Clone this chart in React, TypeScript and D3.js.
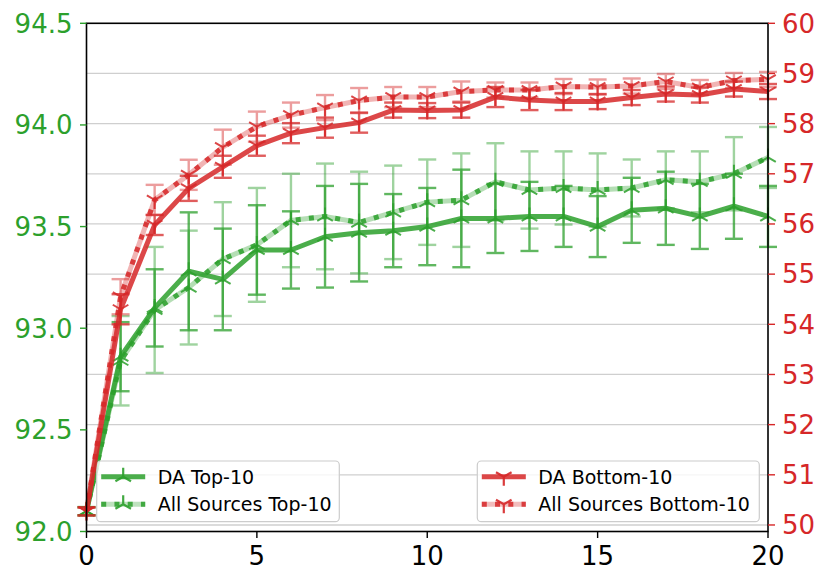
import * as d3 from "d3";
import React from "react";

// epochs on the x axis
const epochs = [0, 1, 2, 3, 4, 5, 6, 7, 8, 9, 10, 11, 12, 13, 14, 15, 16, 17, 18, 19, 20];

// left axis (green): Top-10 accuracy
const daTop = [92.1, 92.86, 93.1, 93.28, 93.24, 93.385, 93.385, 93.45, 93.47, 93.48, 93.5, 93.54, 93.54, 93.55, 93.55, 93.5, 93.58, 93.59, 93.55, 93.6, 93.55];
const daTopErr = [0.02, 0.17, 0.19, 0.29, 0.25, 0.22, 0.19, 0.25, 0.24, 0.18, 0.19, 0.24, 0.17, 0.17, 0.15, 0.15, 0.16, 0.18, 0.16, 0.16, 0.15];
const asTop = [92.1, 92.84, 93.09, 93.2, 93.34, 93.41, 93.53, 93.55, 93.52, 93.57, 93.62, 93.63, 93.72, 93.68, 93.69, 93.68, 93.69, 93.73, 93.72, 93.76, 93.84];
const asTopErr = [0.02, 0.22, 0.31, 0.28, 0.28, 0.28, 0.23, 0.26, 0.25, 0.23, 0.21, 0.23, 0.19, 0.19, 0.18, 0.18, 0.14, 0.14, 0.15, 0.18, 0.15];

// right axis (red): Bottom-10 accuracy
const daBottom = [50.27, 54.3, 55.98, 56.71, 57.14, 57.56, 57.81, 57.92, 58.02, 58.27, 58.26, 58.27, 58.53, 58.47, 58.44, 58.44, 58.52, 58.59, 58.57, 58.69, 58.64];
const daBottomErr = [0.08, 0.3, 0.2, 0.25, 0.22, 0.2, 0.2, 0.2, 0.2, 0.15, 0.15, 0.15, 0.2, 0.2, 0.17, 0.15, 0.15, 0.15, 0.15, 0.15, 0.15];
const asBottom = [50.27, 54.55, 56.48, 56.98, 57.53, 57.94, 58.17, 58.32, 58.46, 58.53, 58.53, 58.64, 58.67, 58.67, 58.74, 58.73, 58.75, 58.84, 58.72, 58.86, 58.88];
const asBottomErr = [0.08, 0.35, 0.3, 0.3, 0.35, 0.3, 0.25, 0.25, 0.25, 0.2, 0.2, 0.2, 0.15, 0.15, 0.15, 0.15, 0.15, 0.15, 0.15, 0.15, 0.15];

const leftTicks = [92.0, 92.5, 93.0, 93.5, 94.0, 94.5];
const rightTicks = [50, 51, 52, 53, 54, 55, 56, 57, 58, 59, 60];
const xTicks = [0, 5, 10, 15, 20];

const GREEN = "#2ca02c";
const RED = "#d62728";
const FONT = "DejaVu Sans";

const W = 830;
const H = 585;
const plot = { left: 86.5, right: 768, top: 23.3, bottom: 531.5 };

const x = d3.scaleLinear().domain([0, 20]).range([plot.left, plot.right]);
const yL = d3.scaleLinear().domain([92, 94.5]).range([plot.bottom, plot.top]);
const yR = d3.scaleLinear().domain([49.87, 60]).range([plot.bottom, plot.top]);

const R = 9;
const triUp = `M0,0L0,${-R}M0,0L${-0.866 * R},${0.5 * R}M0,0L${0.866 * R},${0.5 * R}`;
const triDown = `M0,0L0,${R}M0,0L${-0.866 * R},${-0.5 * R}M0,0L${0.866 * R},${-0.5 * R}`;

type SeriesProps = {
  values: number[];
  errs: number[];
  y: d3.ScaleLinear<number, number>;
  color: string;
  dotted: boolean;
  marker: string;
};

const Series: React.FC<SeriesProps> = ({ values, errs, y, color, dotted, marker }) => {
  const line = d3
    .line<number>()
    .x((_, i) => x(epochs[i]))
    .y((v) => y(v));
  const d = line(values) || "";
  const errOpacity = dotted ? 0.45 : 0.75;
  return (
    <g>
      {values.map((v, i) => {
        const cx = x(epochs[i]);
        const y0 = y(v - errs[i]);
        const y1 = y(v + errs[i]);
        return (
          <g key={i} stroke={color} strokeWidth={2.4} opacity={errOpacity}>
            <line x1={cx} x2={cx} y1={y0} y2={y1} />
            <line x1={cx - 9} x2={cx + 9} y1={y0} y2={y0} />
            <line x1={cx - 9} x2={cx + 9} y1={y1} y2={y1} />
          </g>
        );
      })}
      {dotted ? (
        <>
          <path d={d} fill="none" stroke={color} strokeWidth={5} opacity={0.35} />
          <path d={d} fill="none" stroke={color} strokeWidth={5} strokeDasharray="5 8.25" opacity={0.85} />
        </>
      ) : (
        <path d={d} fill="none" stroke={color} strokeWidth={5} opacity={0.85} strokeLinejoin="round" />
      )}
      {values.map((v, i) => (
        <path
          key={i}
          d={marker}
          transform={`translate(${x(epochs[i])},${y(v)})`}
          fill="none"
          stroke={color}
          strokeWidth={2}
          opacity={0.85}
        />
      ))}
    </g>
  );
};

type LegendItem = { label: string; dotted: boolean };

const Legend: React.FC<{
  x0: number;
  width: number;
  color: string;
  marker: string;
  items: LegendItem[];
}> = ({ x0, width, color, marker, items }) => {
  const top = 461;
  const height = 60.7;
  return (
    <g>
      <rect
        x={x0}
        y={top}
        width={width}
        height={height}
        rx={4}
        fill="white"
        fillOpacity={0.8}
        stroke="#cccccc"
        strokeWidth={1.2}
      />
      {items.map((it, i) => {
        const cy = 476.7 + i * 27.6;
        const hx0 = x0 + 4.5;
        const hx1 = x0 + 48.5;
        const mx = (hx0 + hx1) / 2;
        return (
          <g key={it.label}>
            {it.dotted ? (
              <>
                <line x1={hx0} x2={hx1} y1={cy} y2={cy} stroke={color} strokeWidth={5} opacity={0.3} />
                <line x1={hx0} x2={hx1} y1={cy} y2={cy} stroke={color} strokeWidth={5} strokeDasharray="5 8.25" opacity={0.85} />
              </>
            ) : (
              <line x1={hx0} x2={hx1} y1={cy} y2={cy} stroke={color} strokeWidth={5} opacity={0.85} />
            )}
            <path d={marker} transform={`translate(${mx},${cy})`} fill="none" stroke={color} strokeWidth={2.2} opacity={0.9} />
            <text x={x0 + 61} y={cy + 6.8} fontSize={19} fontFamily={FONT} fill="#000">
              {it.label}
            </text>
          </g>
        );
      })}
    </g>
  );
};

export default function App() {
  return (
    <svg
      width={W}
      height={H}
      viewBox={`0 0 ${W} ${H}`}
      style={{ position: "absolute", left: 0, top: 0, background: "white" }}
    >
      <rect x={0} y={0} width={W} height={H} fill="white" />

      {/* grid from right axis */}
      {rightTicks
        .filter((t) => t < 60)
        .map((t) => (
          <line key={t} x1={plot.left} x2={plot.right} y1={yR(t)} y2={yR(t)} stroke="#cfcfcf" strokeWidth={1.3} />
        ))}

      {/* green (left axis) series */}
      <Series values={asTop} errs={asTopErr} y={yL} color={GREEN} dotted={true} marker={triUp} />
      <Series values={daTop} errs={daTopErr} y={yL} color={GREEN} dotted={false} marker={triUp} />
      <Legend
        x0={96.7}
        width={242.6}
        color={GREEN}
        marker={triUp}
        items={[
          { label: "DA Top-10", dotted: false },
          { label: "All Sources Top-10", dotted: true },
        ]}
      />

      {/* red (right axis) series */}
      <Series values={asBottom} errs={asBottomErr} y={yR} color={RED} dotted={true} marker={triDown} />
      <Series values={daBottom} errs={daBottomErr} y={yR} color={RED} dotted={false} marker={triDown} />
      <Legend
        x0={477.3}
        width={282}
        color={RED}
        marker={triDown}
        items={[
          { label: "DA Bottom-10", dotted: false },
          { label: "All Sources Bottom-10", dotted: true },
        ]}
      />

      {/* spines */}
      <rect
        x={plot.left}
        y={plot.top}
        width={plot.right - plot.left}
        height={plot.bottom - plot.top}
        fill="none"
        stroke="#000"
        strokeWidth={1.6}
      />

      {/* left ticks */}
      {leftTicks.map((t) => (
        <g key={t}>
          <line x1={plot.left - 6.5} x2={plot.left} y1={yL(t)} y2={yL(t)} stroke={GREEN} strokeWidth={1.4} />
          <text
            x={plot.left - 14}
            y={yL(t)}
            dy="0.36em"
            textAnchor="end"
            fontSize={26}
            fontFamily={FONT}
            fill={GREEN}
          >
            {t.toFixed(1)}
          </text>
        </g>
      ))}

      {/* right ticks */}
      {rightTicks.map((t) => (
        <g key={t}>
          <line x1={plot.right} x2={plot.right + 7} y1={yR(t)} y2={yR(t)} stroke={RED} strokeWidth={1.4} />
          <text x={plot.right + 14} y={yR(t)} dy="0.36em" fontSize={26} fontFamily={FONT} fill={RED}>
            {t}
          </text>
        </g>
      ))}

      {/* x ticks */}
      {xTicks.map((t) => (
        <g key={t}>
          <line x1={x(t)} x2={x(t)} y1={plot.bottom} y2={plot.bottom + 6.5} stroke="#000" strokeWidth={1.4} />
          <text x={x(t)} y={plot.bottom + 33} textAnchor="middle" fontSize={26} fontFamily={FONT} fill="#000">
            {t}
          </text>
        </g>
      ))}
    </svg>
  );
}
